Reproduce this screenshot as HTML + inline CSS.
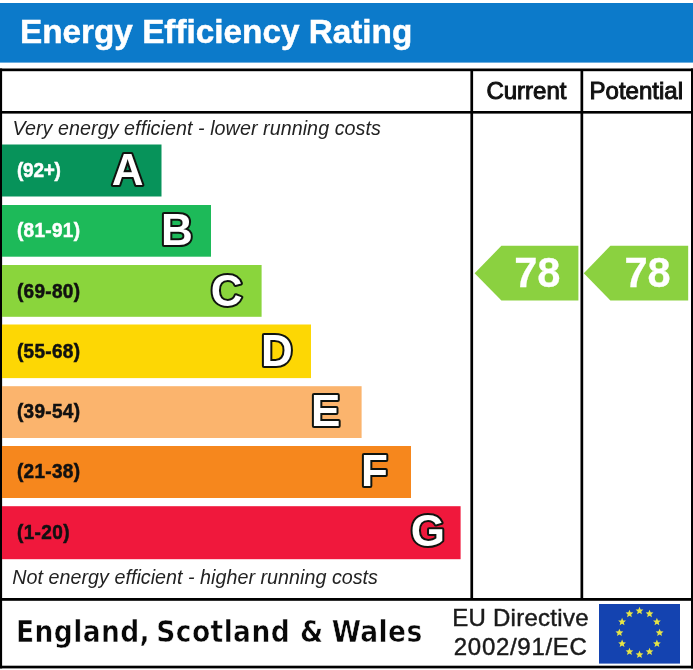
<!DOCTYPE html>
<html lang="en">
<head>
<meta charset="utf-8">
<title>Energy Efficiency Rating</title>
<style>
html,body{margin:0;padding:0;background:#fff;}
body{width:693px;height:670px;overflow:hidden;}
svg{display:block;}
text{font-family:"Liberation Sans",Arial,Helvetica,sans-serif;}
.b{font-weight:bold;}
.i{font-style:italic;}
.rng{font-weight:bold;font-size:19px;stroke-width:0.5px;}
.let{font-weight:bold;font-size:44px;fill:#fff;stroke:#10140f;stroke-width:4.1px;paint-order:stroke fill;stroke-linejoin:round;}
.num{font-weight:bold;font-size:42.5px;fill:#fff;stroke:#fff;stroke-width:0.25px;}
</style>
</head>
<body>
<svg width="693" height="670" viewBox="0 0 693 670">
  <rect x="0" y="0" width="693" height="670" fill="#fff"/>
  <!-- title -->
  <rect x="0" y="3" width="693" height="59.6" fill="#0c7aca"/>
  <text x="20" y="43" class="b" font-size="33.3" fill="#fff" stroke="#fff" stroke-width="0.5">Energy Efficiency Rating</text>

  <!-- frame -->
  <rect x="0" y="68.5" width="693" height="2.7" fill="#000"/>
  <rect x="0" y="665.7" width="693" height="2.7" fill="#000"/>
  <rect x="0" y="68.5" width="2.1" height="599.9" fill="#000"/>
  <rect x="691" y="68.5" width="2" height="599.9" fill="#000"/>
  <rect x="0" y="111" width="693" height="2.6" fill="#000"/>
  <rect x="0" y="598" width="693" height="2.8" fill="#000"/>
  <rect x="470.4" y="70" width="2.7" height="529" fill="#000"/>
  <rect x="580.5" y="70" width="2.7" height="529" fill="#000"/>

  <text x="486.4" y="99.2" font-size="24" fill="#111" stroke="#111" stroke-width="1">Current</text>
  <text x="589.6" y="99.2" font-size="24" fill="#111" stroke="#111" stroke-width="1">Potential</text>

  <text x="12.5" y="135.1" font-size="19.7" class="i" fill="#222" letter-spacing="0.06">Very energy efficient - lower running costs</text>
  <text x="12.3" y="584.1" font-size="19.7" class="i" fill="#222" letter-spacing="0.03">Not energy efficient - higher running costs</text>

  <!-- bands -->
  <rect x="2" y="144.5" width="159.5" height="52" fill="#07935a"/>
  <rect x="2" y="205" width="209" height="51.7" fill="#1dba59"/>
  <rect x="2" y="265" width="259.6" height="51.8" fill="#8ad53c"/>
  <rect x="2" y="324.5" width="309" height="53.6" fill="#fdd704"/>
  <rect x="2" y="386.2" width="359.6" height="51.8" fill="#fbb46d"/>
  <rect x="2" y="446" width="409" height="52" fill="#f6871d"/>
  <rect x="2" y="506.2" width="458.6" height="53" fill="#f0183c"/>

  <text transform="translate(17 177.1) scale(1 1.08)" class="rng" fill="#fff" stroke="#fff" letter-spacing="-0.25">(92+)</text>
  <text transform="translate(17 237.1) scale(1 1.08)" class="rng" fill="#fff" stroke="#fff" letter-spacing="0.30">(81-91)</text>
  <text transform="translate(17 297.7) scale(1 1.08)" class="rng" fill="#111" stroke="#111" letter-spacing="0.30">(69-80)</text>
  <text transform="translate(17 357.7) scale(1 1.08)" class="rng" fill="#111" stroke="#111" letter-spacing="0.30">(55-68)</text>
  <text transform="translate(17 417.7) scale(1 1.08)" class="rng" fill="#111" stroke="#111" letter-spacing="0.30">(39-54)</text>
  <text transform="translate(17 478.4) scale(1 1.08)" class="rng" fill="#111" stroke="#111" letter-spacing="0.30">(21-38)</text>
  <text transform="translate(17 538.7) scale(1 1.08)" class="rng" fill="#111" stroke="#111" letter-spacing="0.36">(1-20)</text>

  <text x="111.8" y="185.0" class="let">A</text>
  <text x="161.0" y="245.0" class="let">B</text>
  <text x="210.8" y="305.9" class="let">C</text>
  <text x="261.0" y="365.7" class="let">D</text>
  <text x="311.0" y="426.2" class="let">E</text>
  <text x="361.0" y="486.3" class="let">F</text>
  <text x="410.7" y="546.3" class="let">G</text>

  <!-- arrows -->
  <polygon points="474.6,273.3 501.4,245.8 578.4,245.8 578.4,300.5 501.4,300.5" fill="#8bd140"/>
  <polygon points="583.8,273.3 610.4,245.8 688.2,245.8 688.2,300.5 610.4,300.5" fill="#8bd140"/>
  <text x="0" y="0" class="num" transform="translate(514.2 287.4) scale(0.98 1.02)">78</text>
  <text x="0" y="0" class="num" transform="translate(624.4 287.4) scale(0.98 1.02)">78</text>

  <!-- footer -->
  <text x="16" y="641.6" font-size="29.5" font-weight="bold" fill="#080808" stroke="#fff" stroke-width="0.5" letter-spacing="0.38" word-spacing="-1.5" style="font-family:'DejaVu Sans Condensed','DejaVu Sans','Liberation Sans',sans-serif;font-stretch:condensed">England, <tspan dx="-1.8">Scotland</tspan><tspan dx="1.8"> &amp; Wales</tspan></text>
  <text x="452.2" y="626.2" font-size="24" fill="#1a1a1a" stroke="#1a1a1a" stroke-width="0.45" letter-spacing="0.27">EU Directive</text>
  <text x="453.8" y="655.2" font-size="24" fill="#1a1a1a" stroke="#1a1a1a" stroke-width="0.45" letter-spacing="0.7">2002/91/EC</text>

  <rect x="599" y="604" width="81" height="59.6" fill="#1443b0"/>
  <g fill="#e6e446" id="stars">
    <polygon points="639.5,606.8 640.6,609.4 643.4,609.6 641.3,611.5 641.9,614.2 639.5,612.7 637.1,614.2 637.7,611.5 635.6,609.6 638.4,609.4"/>
    <polygon points="649.5,609.7 650.6,612.3 653.4,612.6 651.3,614.4 652.0,617.2 649.5,615.7 647.1,617.2 647.8,614.4 645.7,612.6 648.5,612.3"/>
    <polygon points="656.9,617.7 658.0,620.4 660.8,620.6 658.7,622.4 659.3,625.2 656.9,623.7 654.5,625.2 655.2,622.4 653.0,620.6 655.8,620.4"/>
    <polygon points="659.6,628.7 660.7,631.3 663.5,631.5 661.4,633.4 662.0,636.1 659.6,634.6 657.2,636.1 657.8,633.4 655.7,631.5 658.5,631.3"/>
    <polygon points="656.9,639.6 658.0,642.3 660.8,642.5 658.7,644.3 659.3,647.1 656.9,645.6 654.5,647.1 655.2,644.3 653.0,642.5 655.8,642.3"/>
    <polygon points="649.5,647.7 650.6,650.3 653.4,650.5 651.3,652.3 652.0,655.1 649.5,653.6 647.1,655.1 647.8,652.3 645.7,650.5 648.5,650.3"/>
    <polygon points="639.5,650.6 640.6,653.2 643.4,653.4 641.3,655.3 641.9,658.0 639.5,656.5 637.1,658.0 637.7,655.3 635.6,653.4 638.4,653.2"/>
    <polygon points="629.5,647.7 630.5,650.3 633.3,650.5 631.2,652.3 631.9,655.1 629.5,653.6 627.0,655.1 627.7,652.3 625.6,650.5 628.4,650.3"/>
    <polygon points="622.1,639.6 623.2,642.3 626.0,642.5 623.8,644.3 624.5,647.1 622.1,645.6 619.7,647.1 620.3,644.3 618.2,642.5 621.0,642.3"/>
    <polygon points="619.4,628.7 620.5,631.3 623.3,631.5 621.2,633.4 621.8,636.1 619.4,634.6 617.0,636.1 617.6,633.4 615.5,631.5 618.3,631.3"/>
    <polygon points="622.1,617.7 623.2,620.4 626.0,620.6 623.8,622.4 624.5,625.2 622.1,623.7 619.7,625.2 620.3,622.4 618.2,620.6 621.0,620.4"/>
    <polygon points="629.5,609.7 630.5,612.3 633.3,612.6 631.2,614.4 631.9,617.2 629.5,615.7 627.0,617.2 627.7,614.4 625.6,612.6 628.4,612.3"/>
  </g>
</svg>
</body>
</html>
